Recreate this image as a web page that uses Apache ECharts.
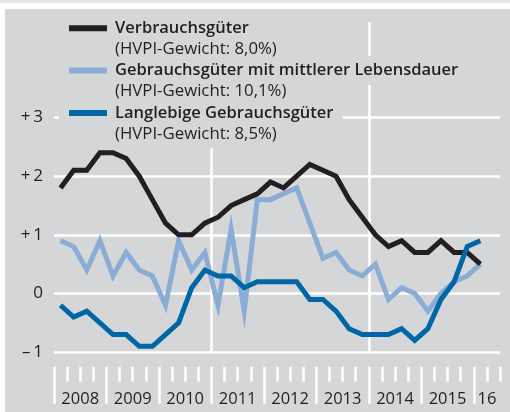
<!DOCTYPE html>
<html><head><meta charset="utf-8">
<script src="https://cdn.jsdelivr.net/npm/echarts@6/dist/echarts.min.js"></script>
<style>
html,body{margin:0;padding:0;background:#fff;width:510px;height:412px;overflow:hidden}
#strip{position:absolute;left:0;top:0;width:510px;height:3px;background:#e6e6e8}
#panel{position:absolute;left:5px;top:9px;width:505px;height:403px;background:#d5d6d8}
#chart{position:absolute;left:0;top:0;width:510px;height:412px}
</style></head><body>
<div id="strip"></div><div id="panel"></div><div id="chart"></div>
<script>
// ---- data (quarterly, 2008 Q1 – 2016 Q1) ----
const seriesNames = ['Verbrauchsgüter', 'Gebrauchsgüter mit mittlerer Lebensdauer', 'Langlebige Gebrauchsgüter'];
const seriesWeights = ['(HVPI-Gewicht: 8,0%)', '(HVPI-Gewicht: 10,1%)', '(HVPI-Gewicht: 8,5%)'];
const seriesColors = ['#231f20', '#8aadd6', '#0066a6'];
const verbrauchsgueter = [1.8, 2.1, 2.1, 2.4, 2.4, 2.3, 2.0, 1.6, 1.2, 1.0, 1.0, 1.2, 1.3, 1.5, 1.6, 1.7, 1.9, 1.8, 2.0, 2.2, 2.1, 2.0, 1.6, 1.3, 1.0, 0.8, 0.9, 0.7, 0.7, 0.9, 0.7, 0.7, 0.5];
const mittlereLebensdauer = [0.9, 0.8, 0.4, 0.9, 0.3, 0.7, 0.4, 0.3, -0.2, 0.9, 0.4, 0.7, -0.2, 1.1, -0.3, 1.6, 1.6, 1.7, 1.8, 1.2, 0.6, 0.7, 0.4, 0.3, 0.5, -0.1, 0.1, 0.0, -0.3, 0.0, 0.2, 0.3, 0.5];
const langlebige = [-0.2, -0.4, -0.3, -0.5, -0.7, -0.7, -0.9, -0.9, -0.7, -0.5, 0.1, 0.4, 0.3, 0.3, 0.1, 0.2, 0.2, 0.2, 0.2, -0.1, -0.1, -0.3, -0.6, -0.7, -0.7, -0.7, -0.6, -0.8, -0.6, -0.1, 0.2, 0.8, 0.9];
const yearLabels = ['2008', '2009', '2010', '2011', '2012', '2013', '2014', '2015', '16'];
const quartersPerYear = [4, 4, 4, 4, 4, 4, 4, 4, 2];
const yTicks = [-1, 0, 1, 2, 3];
const yTickLabels = ['–\u20091', '0', '+\u20091', '+\u20092', '+\u20093'];
const verticalGridEveryQuarters = 12; // white verticals at 2011 and 2014

// ---- derived axis helpers ----
const yearStarts = [];
let acc = 0;
quartersPerYear.forEach(q => { yearStarts.push(acc); acc += q; });
const totalQuarters = acc;
const longTicks = yearStarts.slice();
const shortTicks = [];
for (let q = 0; q <= totalQuarters; q++) if (longTicks.indexOf(q) < 0) shortTicks.push(q);
const labelCenters = yearStarts.map((s, i) => s + quartersPerYear[i] / 2);
const labelMap = {};
labelCenters.forEach((c, i) => { labelMap[c] = yearLabels[i]; });
const toPoints = arr => arr.map((v, i) => [i + 0.5, v]);

const FONT = '"Open Sans", "DejaVu Sans", sans-serif';
const TXT = '#231f20';
const BG = '#d5d6d8';
const WHITE_W = 2.5;

const gridLeft = 54, gridRight = 10, gridBottom = 59.8;

const xBase = {
  type: 'value', min: 0, max: totalQuarters, position: 'bottom',
  axisLine: { show: false, onZero: false }, splitLine: { show: false }
};

// legend graphic
const rowY = [28.3, 70.5, 113.0];
const lineGap = 20.8;
const graphic = [];
seriesNames.forEach((name, i) => {
  const lines = [
    { t: name, y: rowY[i], f: '600 16.5px ' + FONT },
    { t: seriesWeights[i], y: rowY[i] + lineGap, f: '400 16.8px ' + FONT }
  ];
  lines.forEach(l => {
    graphic.push({
      type: 'text', x: 59, y: l.y, z: 50,
      style: { text: l.t, font: l.f, fill: 'rgba(0,0,0,0)',
        verticalAlign: 'middle', align: 'left', backgroundColor: BG, padding: [6, 9, 6, 56] }
    });
    graphic.push({
      type: 'text', x: 115, y: l.y, z: 60,
      style: { text: l.t, font: l.f, fill: TXT, verticalAlign: 'middle', align: 'left' }
    });
  });
  graphic.push({
    type: 'rect', z: 60,
    shape: { x: 69, y: rowY[i] - 3, width: 38, height: 6 },
    style: { fill: seriesColors[i] }
  });
});

const chart = echarts.init(document.getElementById('chart'), null, { renderer: 'canvas' });
chart.setOption({
  animation: false,
  backgroundColor: 'transparent',
  textStyle: { fontFamily: FONT },
  grid: [
    { left: gridLeft, right: gridRight, top: 117.5, bottom: gridBottom },
    { left: gridLeft, right: gridRight, top: 22, bottom: gridBottom }
  ],
  xAxis: [
    Object.assign({}, xBase, {
      gridIndex: 0, offset: 14.5,
      axisTick: { show: true, customValues: shortTicks, length: 15, lineStyle: { color: '#fff', width: WHITE_W } },
      axisLabel: { show: false }
    }),
    Object.assign({}, xBase, {
      gridIndex: 0, offset: 14.5,
      axisTick: { show: true, customValues: longTicks, length: 37, lineStyle: { color: '#fff', width: WHITE_W } },
      axisLabel: { show: true, customValues: labelCenters, margin: 24, color: TXT, fontSize: 16.5, fontFamily: FONT,
        formatter: v => labelMap[v] || '' }
    }),
    Object.assign({}, xBase, {
      gridIndex: 1, interval: verticalGridEveryQuarters,
      axisTick: { show: false },
      axisLabel: { show: false },
      splitLine: { show: true, showMinLine: false, showMaxLine: false, lineStyle: { color: '#fff', width: WHITE_W } }
    })
  ],
  yAxis: [
    {
      gridIndex: 0, type: 'value', min: yTicks[0], max: yTicks[yTicks.length - 1], interval: 1,
      axisLine: { show: false }, axisTick: { show: false },
      splitLine: { show: true, lineStyle: { color: '#fff', width: WHITE_W } },
      axisLabel: { margin: 11, color: TXT, fontSize: 17, fontFamily: FONT,
        formatter: v => yTickLabels[yTicks.indexOf(v)] }
    },
    { gridIndex: 1, type: 'value', min: 0, max: 1, show: false }
  ],
  graphic: graphic,
  series: [
    { name: seriesNames[1], type: 'line', xAxisIndex: 0, yAxisIndex: 0, data: toPoints(mittlereLebensdauer),
      symbol: 'none', lineStyle: { color: seriesColors[1], width: 5, join: 'miter', cap: 'butt' }, z: 3 },
    { name: seriesNames[0], type: 'line', xAxisIndex: 0, yAxisIndex: 0, data: toPoints(verbrauchsgueter),
      symbol: 'none', lineStyle: { color: seriesColors[0], width: 5, join: 'miter', cap: 'butt' }, z: 4 },
    { name: seriesNames[2], type: 'line', xAxisIndex: 0, yAxisIndex: 0, data: toPoints(langlebige),
      symbol: 'none', lineStyle: { color: seriesColors[2], width: 5, join: 'miter', cap: 'butt' }, z: 5 }
  ]
});
</script>
</body></html>
